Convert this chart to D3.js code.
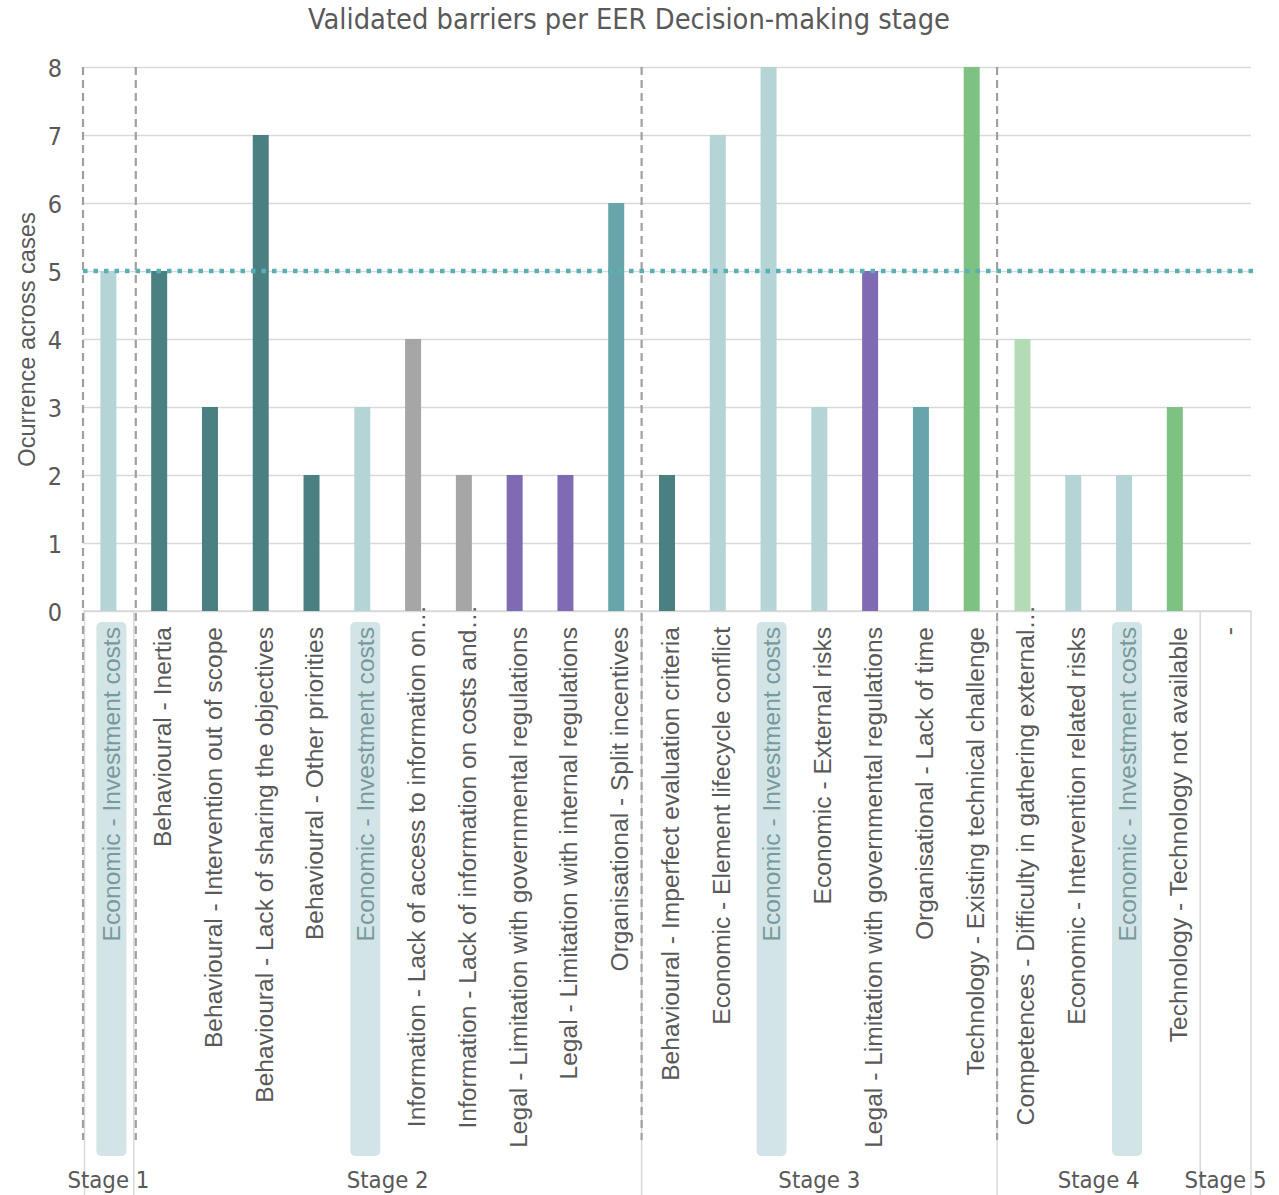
<!DOCTYPE html>
<html>
<head>
<meta charset="utf-8">
<script src="https://cdn.jsdelivr.net/npm/d3@7/dist/d3.min.js"></script>
<style>
  html, body { margin: 0; padding: 0; background: #fff; }
  svg { display: block; }
</style>
</head>
<body>
<svg id="chart" width="1279" height="1195"></svg>
<script>
// ---------------- DATA ----------------
const title = "Validated barriers per EER Decision-making stage";
const yAxisTitle = "Ocurrence across cases";
const stages = ["Stage 1", "Stage 2", "Stage 3", "Stage 4", "Stage 5"];
const stageSizes = [1, 10, 7, 4, 1];
const categories = [
  "Economic - Investment costs",
  "Behavioural - Inertia",
  "Behavioural - Intervention out of scope",
  "Behavioural - Lack of sharing the objectives",
  "Behavioural - Other priorities",
  "Economic - Investment costs",
  "Information - Lack of access to information on\u2026",
  "Information - Lack of information on costs and\u2026",
  "Legal - Limitation with governmental regulations",
  "Legal - Limitation with internal regulations",
  "Organisational - Split incentives",
  "Behavioural - Imperfect evaluation criteria",
  "Economic - Element lifecycle conflict",
  "Economic - Investment costs",
  "Economic - External risks",
  "Legal - Limitation with governmental regulations",
  "Organisational - Lack of time",
  "Technology - Existing technical challenge",
  "Competences - Difficulty in gathering external\u2026",
  "Economic - Intervention related risks",
  "Economic - Investment costs",
  "Technology - Technology not available",
  "-"
];
const values = [5, 5, 3, 7, 2, 3, 4, 2, 2, 2, 6, 2, 7, 8, 3, 5, 3, 8, 4, 2, 2, 3, 0];
const barrierTypes = [
  "econ", "behav", "behav", "behav", "behav", "econ", "info", "info", "legal", "legal", "org",
  "behav", "econ", "econ", "econ", "legal", "org", "tech",
  "comp", "econ", "econ", "tech", "none"
];
const yTicks = [0, 1, 2, 3, 4, 5, 6, 7, 8];
const threshold = 5;
const highlighted = "Economic - Investment costs";

// ---------------- STYLE ----------------
const typeColor = {
  econ: "#b5d4d6", behav: "#4b8083", info: "#a6a6a6", legal: "#7f6bb3",
  org: "#68a5ab", tech: "#7dc283", comp: "#b3dbb5", none: "#ffffff"
};
const labelFont = "'Liberation Sans', Arial, sans-serif";
const condFont = "'Liberation Sans Narrow', 'DejaVu Sans Condensed', 'Roboto Condensed', sans-serif";
const textColor = "#595959";

const W = 1279, H = 1195;
const plot = { left: 83, right: 1251, top: 67, bottom: 611 };

const svg = d3.select("#chart");

const idx = categories.map((_, i) => i);
const x = d3.scaleBand().domain(idx).range([plot.left, plot.right]).paddingInner(0.685).paddingOuter(0.3425);
const y = d3.scaleLinear().domain([0, 8]).range([plot.bottom, plot.top]);

// gridlines
const yAxis = d3.axisLeft(y).tickValues(yTicks).tickSize(-(plot.right - plot.left)).tickFormat(d3.format("d"));
const gy = svg.append("g").attr("transform", `translate(${plot.left},0)`).call(yAxis);
gy.select(".domain").remove();
gy.selectAll(".tick line").attr("stroke", "#d9d9d9").attr("stroke-width", 1.5);
gy.selectAll(".tick text")
  .attr("x", -21)
  .attr("dy", "0.36em")
  .attr("fill", textColor)
  .style("font-family", condFont)
  .style("font-size", "25px");

// stage boundaries (in band units)
const step = x.step();
const stageStart = [];
let acc = 0;
stageSizes.forEach(s => { stageStart.push(acc); acc += s; });
const bx = k => plot.left + k * step;

// solid separators in category label area
const solidXs = [0, 1, 11, 18, 22, 23].map(bx);
svg.append("g").selectAll("line").data(solidXs).join("line")
  .attr("x1", d => d + (d === plot.left ? 1.5 : 0)).attr("x2", d => d + (d === plot.left ? 1.5 : 0))
  .attr("y1", plot.bottom).attr("y2", H)
  .attr("stroke", "#d9d9d9").attr("stroke-width", 1.5);

// baseline
svg.append("line")
  .attr("x1", plot.left).attr("x2", plot.right)
  .attr("y1", plot.bottom).attr("y2", plot.bottom)
  .attr("stroke", "#d9d9d9").attr("stroke-width", 1.5);

// highlight boxes behind label
const hg = svg.append("g");
idx.filter(i => categories[i] === highlighted).forEach(i => {
  hg.append("rect")
    .attr("x", x(i) + x.bandwidth() / 2 - 12)
    .attr("y", 622)
    .attr("width", 30)
    .attr("height", 534)
    .attr("rx", 5)
    .attr("fill", "#d3e4e6");
});

// bars
svg.append("g").selectAll("rect").data(idx).join("rect")
  .attr("x", i => x(i))
  .attr("y", i => y(values[i]))
  .attr("width", x.bandwidth())
  .attr("height", i => y(0) - y(values[i]))
  .attr("fill", i => typeColor[barrierTypes[i]]);

// dashed stage separators
const dashedXs = [bx(0), bx(1) + 2, bx(11), bx(18)];
svg.append("g").selectAll("line").data(dashedXs).join("line")
  .attr("x1", d => d).attr("x2", d => d)
  .attr("y1", plot.top).attr("y2", 1140)
  .attr("stroke", "#a0a0a0").attr("stroke-width", 2.2)
  .attr("stroke-dasharray", "8,5");

// threshold dotted line
svg.append("line")
  .attr("x1", plot.left).attr("x2", plot.right + 4)
  .attr("y1", y(threshold)).attr("y2", y(threshold))
  .attr("stroke", "#58b0b5").attr("stroke-width", 4.5)
  .attr("stroke-dasharray", "4.5,6");

// category labels
svg.append("g").selectAll("text").data(idx).join("text")
  .attr("transform", i => {
    const cx = x(i) + x.bandwidth() / 2 + 3;
    const ty = categories[i].endsWith("\u2026") ? 605 : 627;
    return `translate(${cx},${ty}) rotate(-90)`;
  })
  .attr("text-anchor", "end")
  .attr("dy", "0.36em")
  .attr("fill", i => categories[i] === highlighted ? "#789a9d" : textColor)
  .style("font-family", labelFont)
  .style("font-size", "24.6px")
  .text(i => categories[i]);

// stage labels
const stg = svg.append("g").selectAll("text").data(stages).join("text")
  .attr("x", (d, k) => (bx(stageStart[k]) + bx(stageStart[k] + stageSizes[k])) / 2)
  .attr("y", 1188)
  .attr("text-anchor", "middle")
  .attr("fill", textColor)
  .style("font-family", condFont)
  .style("font-size", "25px")
  .text(d => d);

// fit condensed stage labels to measured width
(function () {
  const n = stg.nodes()[0];
  const w = n.getComputedTextLength();
  const fs = 25 * 82 / w;
  stg.style("font-size", fs + "px");
})();

// y axis title
svg.append("text")
  .attr("transform", `translate(26,${(212 + 467) / 2}) rotate(-90)`)
  .attr("text-anchor", "middle")
  .attr("dy", "0.36em")
  .attr("fill", textColor)
  .style("font-family", labelFont)
  .style("font-size", "23.6px")
  .text(yAxisTitle);

// title
const t = svg.append("text")
  .attr("x", 629)
  .attr("y", 29)
  .attr("text-anchor", "middle")
  .attr("fill", textColor)
  .style("font-family", condFont)
  .style("font-size", "27px")
  .text(title);
(function () {
  const w = t.node().getComputedTextLength();
  t.style("font-size", (27 * 642 / w) + "px");
})();
</script>
</body>
</html>
